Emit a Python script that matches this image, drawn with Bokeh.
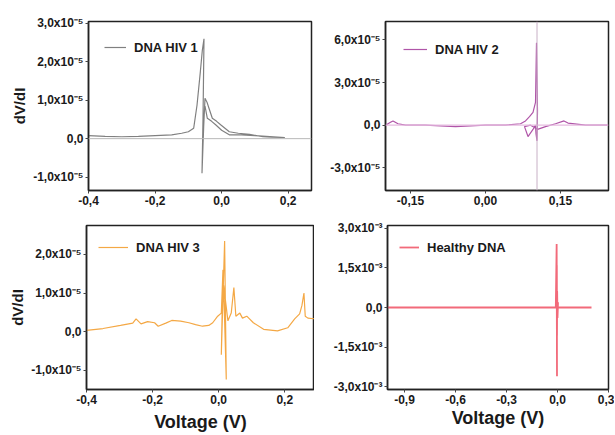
from bokeh.plotting import figure
from bokeh.layouts import column, row
from bokeh.models import FixedTicker, CustomJSTickFormatter, Span, Range1d
from bokeh.embed import file_html
from bokeh.resources import INLINE

# ---------------- data ----------------
# Panel 1: DNA HIV 1  (y in units of 1e-5)
hiv1_x = [-0.40, -0.35, -0.30, -0.25, -0.20, -0.15, -0.12, -0.10, -0.084, -0.074, -0.064, -0.058,
          -0.053, -0.056, -0.059, -0.054, -0.050, -0.044, -0.038, -0.028, -0.015, -0.003, 0.010,
          0.023, 0.050, 0.084, 0.124, 0.150, 0.180, 0.190, 0.100, 0.060, 0.023, 0.000, -0.018,
          -0.030, -0.043, -0.050]
hiv1_y = [0.08, 0.06, 0.05, 0.06, 0.08, 0.10, 0.14, 0.18, 0.27, 0.87, 1.74, 2.30,
          2.60, 0.50, -0.90, 0.30, 1.05, 0.95, 0.79, 0.53, 0.45, 0.36, 0.27,
          0.18, 0.14, 0.11, 0.05, 0.04, 0.03, 0.03, 0.08, 0.10, 0.10, 0.22, 0.36,
          0.45, 0.53, 0.85]

# Panel 2: DNA HIV 2  (y in units of 1e-5)
hiv2_x = [-0.200, -0.190, -0.185, -0.175, -0.160, -0.120, -0.060, 0.000, 0.040, 0.070, 0.080,
          0.088, 0.095, 0.100, 0.102, 0.104, 0.103, 0.101, 0.100, 0.095, 0.085, 0.078, 0.090,
          0.100, 0.104, 0.120, 0.140, 0.157, 0.165, 0.200, 0.245]
hiv2_y = [0.0, 0.2, 0.3, 0.1, 0.0, 0.0, -0.1, 0.0, 0.0, 0.1, 0.3,
          0.6, 0.9, 1.6, 5.8, 1.0, -1.1, -0.6, 0.0, -0.3, -0.8, -0.1, 0.0,
          -0.2, -0.3, -0.1, 0.1, 0.3, 0.15, 0.0, 0.0]

# Panel 3: DNA HIV 3  (y in units of 1e-5)
hiv3_x = [-0.400, -0.350, -0.297, -0.260, -0.250, -0.235, -0.215, -0.194, -0.183, -0.160, -0.142,
          -0.115, -0.090, -0.070, -0.049, -0.030, -0.018, -0.003, 0.008, 0.013, 0.008, 0.018,
          0.023, 0.015, 0.028, 0.038, 0.046, 0.052, 0.064, 0.072, 0.085, 0.105, 0.136, 0.178,
          0.209, 0.230, 0.245, 0.252, 0.258, 0.262, 0.270, 0.293]
hiv3_y = [0.03, 0.08, 0.16, 0.22, 0.33, 0.20, 0.26, 0.23, 0.14, 0.22, 0.29,
          0.27, 0.23, 0.18, 0.14, 0.16, 0.23, 0.40, 0.48, 1.60, -0.60, 2.35,
          -1.24, 1.20, 0.28, 0.48, 1.14, 0.40, 0.48, 0.35, 0.40, 0.23, 0.06, 0.02,
          0.10, 0.33, 0.46, 0.68, 1.00, 0.40, 0.35, 0.33]

# Panel 4: Healthy DNA  (y in units of 1e-3)
healthy_x = [-1.00, -0.60, -0.20, -0.010, -0.005, -0.003, -0.004, -0.003, -0.002, 0.000,
             0.003, 0.000, 0.050, 0.200]
healthy_y = [0.00, 0.00, 0.00, 0.00, 2.40, -2.60, 1.60, -1.06, 0.60, -0.40,
             0.20, 0.00, 0.00, 0.00]

labels = ["DNA HIV 1", "DNA HIV 2", "DNA HIV 3", "Healthy DNA"]

x_ticks_1 = [-0.4, -0.2, 0.0, 0.2]
y_ticks_1 = [-1.0, 0.0, 1.0, 2.0, 3.0]
x_ticks_2 = [-0.15, 0.0, 0.15]
y_ticks_2 = [-3.0, 0.0, 3.0, 6.0]
x_ticks_3 = [-0.4, -0.2, 0.0, 0.2]
y_ticks_3 = [-1.0, 0.0, 1.0, 2.0]
x_ticks_4 = [-0.9, -0.6, -0.3, 0.0, 0.3]
y_ticks_4 = [-3.0, -1.5, 0.0, 1.5, 3.0]

FONT = "Liberation Sans"
TXT = "#1a1a1a"


def yfmt(exp_sup):
    return CustomJSTickFormatter(args=dict(sup=exp_sup), code="""
        if (Math.abs(tick) < 1e-9) return "0,0";
        return tick.toFixed(1).replace(".", ",") + "x10" + sup;
    """)


def xfmt(dec):
    return CustomJSTickFormatter(args=dict(d=dec), code="""
        let t = tick;
        if (Math.abs(t) < 1e-9) t = 0;
        return t.toFixed(d).replace(".", ",");
    """)


def make(w, h, bl, br, bt, bb, xr, yr, xt, yt, xdec, sup, xlabel, ylabel, xstand=0):
    p = figure(width=w, height=h, output_backend="svg", toolbar_location=None,
               x_range=Range1d(*xr), y_range=Range1d(*yr),
               min_border_left=bl, min_border_right=br, min_border_top=bt, min_border_bottom=bb)
    p.grid.visible = False
    p.outline_line_color = "#222222"
    p.outline_line_width = 1.5
    for ax in (p.xaxis[0], p.yaxis[0]):
        ax.axis_line_color = "#222222"
        ax.axis_line_width = 1.5
        ax.major_tick_line_color = "#444444"
        ax.major_tick_out = 3
        ax.major_tick_in = 0
        ax.minor_tick_line_color = None
        ax.major_label_text_font = FONT
        ax.major_label_text_font_style = "bold"
        ax.major_label_text_font_size = "12px"
        ax.major_label_text_color = TXT
        ax.major_label_standoff = 2
        ax.axis_label_text_font = FONT
        ax.axis_label_text_font_style = "bold"
        ax.axis_label_text_color = TXT
    p.xaxis[0].ticker = FixedTicker(ticks=xt)
    p.yaxis[0].ticker = FixedTicker(ticks=yt)
    p.xaxis[0].formatter = xfmt(xdec)
    p.yaxis[0].formatter = yfmt(sup)
    if xlabel:
        p.xaxis[0].axis_label = xlabel
        p.xaxis[0].axis_label_text_font_size = "18px"
        p.xaxis[0].axis_label_standoff = xstand
    if ylabel:
        p.yaxis[0].axis_label = ylabel
        p.yaxis[0].axis_label_text_font_size = "15px"
        p.yaxis[0].axis_label_standoff = 2
    return p


def style_legend(p, margin, padding, gw):
    lg = p.legend[0]
    lg.location = "top_left"
    lg.background_fill_alpha = 0
    lg.border_line_alpha = 0
    lg.label_text_font = FONT
    lg.label_text_font_style = "bold"
    lg.label_text_font_size = "13px"
    lg.label_text_color = TXT
    lg.glyph_width = gw
    lg.margin = margin
    lg.padding = padding
    lg.label_standoff = 8


# Panel 1
p1 = make(320, 216, 88, 9, 20, 26, (-0.4, 0.27), (-1.35, 3.05), x_ticks_1, y_ticks_1, 1, "⁻⁵", None, "dV/dI")
p1.add_layout(Span(location=0, dimension="width", line_color="#b8b8b8", line_width=1))
p1.line(hiv1_x, hiv1_y, line_color="#808080", line_width=1.2, legend_label=labels[0])
style_legend(p1, 6, 10, 22)

# Panel 2
p2 = make(294, 216, 65, 6, 21, 25, (-0.2, 0.246), (-4.6, 7.3), x_ticks_2, y_ticks_2, 2, "⁻⁵", None, None)
p2.add_layout(Span(location=0, dimension="width", line_color="#e6bce0", line_width=1.3))
p2.add_layout(Span(location=0.103, dimension="height", line_color="#c8b0c6", line_width=1))
p2.line(hiv2_x, hiv2_y, line_color="#b055a8", line_width=1.2, legend_label=labels[1])
style_legend(p2, 8, 10, 24)

# Panel 3
p3 = make(314, 218, 86, 0, 9, 45, (-0.4, 0.29), (-1.5, 2.75), x_ticks_3, y_ticks_3, 1, "⁻⁵", "Voltage (V)", "dV/dI", 5)
p3.line(hiv3_x, hiv3_y, line_color="#f4a845", line_width=1.2, legend_label=labels[2])
style_legend(p3, 4, 8, 30)

# Panel 4
p4 = make(300, 218, 73, 6, 8, 39, (-1.0, 0.3), (-3.1, 3.1), x_ticks_4, y_ticks_4, 1, "⁻³", "Voltage (V)", None, 1)
p4.line(healthy_x, healthy_y, line_color="#f26a7a", line_width=1.8, legend_label=labels[3])
style_legend(p4, 4, 8, 20)

layout = column(row(p1, p2, spacing=0), row(p3, p4, spacing=0), spacing=0)

open("out.html", "w").write(file_html(layout, INLINE))
